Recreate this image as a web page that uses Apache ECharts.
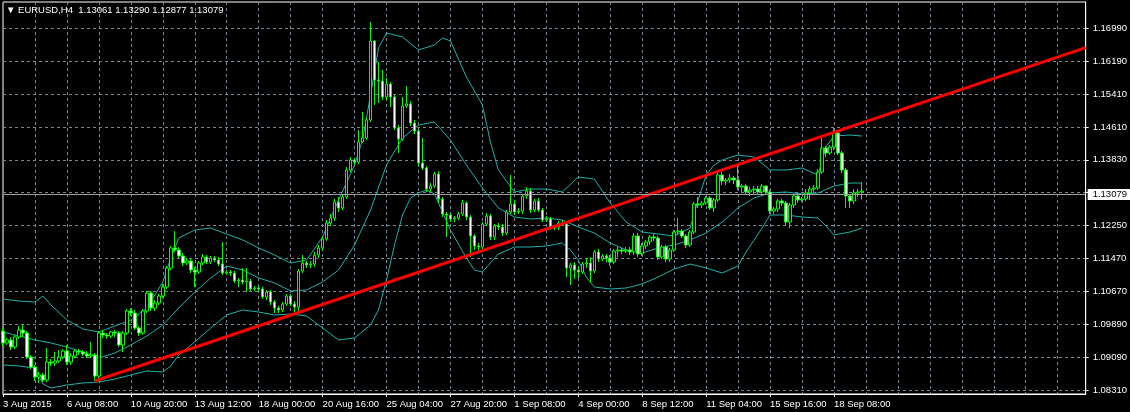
<!DOCTYPE html>
<html><head><meta charset="utf-8">
<script src="https://cdn.jsdelivr.net/npm/echarts@6/dist/echarts.min.js"></script>
<style>html,body{margin:0;padding:0;background:#000;}#c{width:1130px;height:412px;}</style>
</head><body><div id="c"></div>
<script>
// ---- data ----
const titleText = '\u25BC EURUSD,H4  1.13061 1.13290 1.12877 1.13079';
const currentPrice = 1.13079;
const yLabelValues = [1.08310,1.09090,1.09890,1.10670,1.11470,1.12250,1.13830,1.14610,1.15410,1.16190,1.16990];
const yGridValues  = [1.08310,1.09090,1.09890,1.10670,1.11470,1.12250,1.13040,1.13830,1.14610,1.15410,1.16190,1.16990];
const xTickLabels = ['3 Aug 2015','6 Aug 08:00','10 Aug 20:00','13 Aug 12:00','18 Aug 00:00','20 Aug 16:00','25 Aug 04:00','27 Aug 20:00','1 Sep 08:00','4 Sep 00:00','8 Sep 12:00','11 Sep 04:00','15 Sep 16:00','18 Sep 08:00'];
// candles: [open, close, low, high]
const candles = [
[1.09725,1.09437,1.09365,1.09796],[1.09437,1.09509,1.09389,1.09557],[1.09509,1.09341,1.09269,1.09581],[1.09341,1.09581,1.09293,1.09629],
[1.09581,1.09749,1.09533,1.09844],[1.09749,1.09677,1.09581,1.09892],[1.09677,1.09101,1.09053,1.09725],[1.09101,1.08861,1.08813,1.09149],
[1.08861,1.08622,1.08526,1.08909],[1.08622,1.08670,1.08478,1.08742],[1.08670,1.08550,1.08502,1.08718],[1.08550,1.08981,1.08502,1.09317],
[1.08981,1.08957,1.08885,1.09053],[1.08957,1.09005,1.08885,1.09221],[1.09005,1.09101,1.08957,1.09269],[1.09101,1.09245,1.09053,1.09293],
[1.09245,1.08981,1.08909,1.09389],[1.08981,1.09125,1.08909,1.09197],[1.09125,1.09245,1.09077,1.09293],[1.09245,1.09221,1.09149,1.09293],
[1.09221,1.09173,1.09125,1.09269],[1.09173,1.09125,1.09077,1.09245],[1.09125,1.09149,1.09077,1.09461],[1.09149,1.08646,1.08526,1.09197],
[1.08646,1.09677,1.08550,1.09725],[1.09677,1.09629,1.09557,1.09749],[1.09629,1.09605,1.09533,1.09677],[1.09605,1.09701,1.09557,1.09725],
[1.09701,1.09677,1.09581,1.09749],[1.09677,1.09389,1.09341,1.09725],[1.09389,1.09677,1.09221,1.09725],[1.09677,1.10204,1.09629,1.10252],
[1.10204,1.10156,1.10084,1.10276],[1.10156,1.09796,1.09749,1.10228],[1.09796,1.09677,1.09605,1.09844],[1.09677,1.10204,1.09629,1.10252],
[1.10204,1.10636,1.10156,1.10684],[1.10636,1.10276,1.10204,1.10684],[1.10276,1.10396,1.10204,1.10468],[1.10396,1.10564,1.10348,1.10612],
[1.10564,1.10780,1.10516,1.10852],[1.10780,1.11235,1.10732,1.11283],[1.11235,1.11715,1.11187,1.11763],[1.11715,1.11667,1.11619,1.12122],
[1.11667,1.11523,1.11475,1.11739],[1.11523,1.11355,1.11283,1.11595],[1.11355,1.11403,1.11307,1.11475],[1.11403,1.11187,1.11115,1.11451],
[1.11187,1.11139,1.10780,1.11259],[1.11139,1.11355,1.11091,1.11403],[1.11355,1.11499,1.11307,1.11571],[1.11499,1.11379,1.11331,1.11547],
[1.11379,1.11475,1.11331,1.11523],[1.11475,1.11427,1.11379,1.11523],[1.11427,1.11331,1.11283,1.11499],[1.11331,1.11115,1.11067,1.11859],
[1.11115,1.11139,1.11067,1.11187],[1.11139,1.11115,1.11043,1.11187],[1.11115,1.10924,1.10876,1.11163],[1.10924,1.10948,1.10780,1.10996],
[1.10948,1.10900,1.10852,1.11235],[1.10900,1.10924,1.10660,1.11235],[1.10924,1.10732,1.10684,1.10972],[1.10732,1.10756,1.10684,1.10804],
[1.10756,1.10732,1.10660,1.10804],[1.10732,1.10540,1.10492,1.10780],[1.10540,1.10660,1.10468,1.10708],[1.10660,1.10420,1.10348,1.10708],
[1.10420,1.10276,1.10156,1.10468],[1.10276,1.10228,1.10156,1.10324],[1.10228,1.10372,1.10180,1.10420],[1.10372,1.10564,1.10324,1.10612],
[1.10564,1.10372,1.10324,1.10612],[1.10372,1.10300,1.10180,1.10444],[1.10300,1.11163,1.10180,1.11211],[1.11163,1.11355,1.11115,1.11547],
[1.11355,1.11307,1.11235,1.11403],[1.11307,1.11331,1.11235,1.11403],[1.11331,1.11547,1.11259,1.11619],[1.11547,1.11715,1.11475,1.11787],
[1.11715,1.11930,1.11643,1.12002],[1.11930,1.12314,1.11883,1.12386],[1.12314,1.12434,1.12242,1.12530],[1.12434,1.12818,1.12362,1.12890],
[1.12818,1.12674,1.12578,1.12938],[1.12674,1.12938,1.12626,1.13010],[1.12938,1.13585,1.12890,1.13657],[1.13585,1.13825,1.13537,1.13897],
[1.13825,1.13777,1.13705,1.13873],[1.13777,1.14256,1.13729,1.14544],[1.14256,1.14352,1.14232,1.14976],[1.14352,1.14784,1.14304,1.14856],
[1.14784,1.16678,1.14736,1.17134],[1.16678,1.15743,1.15144,1.16702],[1.15743,1.15719,1.15192,1.16175],[1.15719,1.15336,1.15264,1.15983],
[1.15336,1.15647,1.15264,1.15791],[1.15647,1.15336,1.15096,1.15695],[1.15336,1.14592,1.14544,1.15383],[1.14592,1.14328,1.13993,1.14664],
[1.14328,1.15120,1.14280,1.15336],[1.15120,1.15168,1.15072,1.15599],[1.15168,1.14712,1.14640,1.15240],[1.14712,1.14520,1.14448,1.14784],
[1.14520,1.13753,1.13681,1.14568],[1.13753,1.13633,1.13585,1.14352],[1.13633,1.13129,1.13058,1.13681],[1.13129,1.13201,1.13058,1.13273],
[1.13201,1.13489,1.13153,1.13537],[1.13489,1.12890,1.12794,1.13561],[1.12890,1.12530,1.12458,1.12938],[1.12530,1.12506,1.11979,1.12578],
[1.12506,1.12410,1.12338,1.12554],[1.12410,1.12434,1.12338,1.12482],[1.12434,1.12530,1.12386,1.12578],[1.12530,1.12794,1.12482,1.12866],
[1.12794,1.12458,1.12386,1.12842],[1.12458,1.12002,1.11499,1.12506],[1.12002,1.11763,1.11667,1.12050],[1.11763,1.11739,1.11619,1.11835],
[1.11739,1.12290,1.11667,1.12338],[1.12290,1.12482,1.12242,1.12554],[1.12482,1.11979,1.11907,1.12530],[1.11979,1.12242,1.11907,1.12290],
[1.12242,1.12218,1.12146,1.12314],[1.12218,1.12074,1.12002,1.12290],[1.12074,1.12578,1.12026,1.12626],[1.12578,1.12770,1.12530,1.13465],
[1.12770,1.12578,1.12506,1.12866],[1.12578,1.12602,1.12530,1.12674],[1.12602,1.12962,1.12530,1.13010],[1.12962,1.13082,1.12890,1.13177],
[1.13082,1.12626,1.12554,1.13153],[1.12626,1.12842,1.12578,1.12890],[1.12842,1.12626,1.12578,1.12914],[1.12626,1.12386,1.12338,1.12674],
[1.12386,1.12410,1.12338,1.12482],[1.12410,1.12194,1.12146,1.12458],[1.12194,1.12218,1.12146,1.12266],[1.12218,1.12314,1.12146,1.12362],
[1.12314,1.12290,1.12242,1.12386],[1.12290,1.11235,1.11019,1.12338],[1.11235,1.11307,1.10828,1.11355],[1.11307,1.11187,1.10972,1.11379],
[1.11187,1.11139,1.10996,1.11283],[1.11139,1.11331,1.11091,1.11379],[1.11331,1.11355,1.11235,1.11475],[1.11355,1.11163,1.10876,1.11499],
[1.11163,1.11619,1.11115,1.11667],[1.11619,1.11451,1.11379,1.11691],[1.11451,1.11523,1.11403,1.11571],[1.11523,1.11475,1.11379,1.11571],
[1.11475,1.11379,1.11283,1.11547],[1.11379,1.11643,1.11331,1.11691],[1.11643,1.11667,1.11499,1.11739],[1.11667,1.11643,1.11571,1.11715],
[1.11643,1.11667,1.11595,1.11739],[1.11667,1.11619,1.11547,1.11739],[1.11619,1.12002,1.11547,1.12074],[1.12002,1.11571,1.11499,1.12074],
[1.11571,1.11763,1.11523,1.11835],[1.11763,1.11859,1.11691,1.11907],[1.11859,1.11979,1.11787,1.12026],[1.11979,1.11955,1.11883,1.12050],
[1.11955,1.11499,1.11427,1.12002],[1.11499,1.11739,1.11451,1.11787],[1.11739,1.11451,1.11379,1.11787],[1.11451,1.11667,1.11379,1.11715],
[1.11667,1.12098,1.11619,1.12146],[1.12098,1.12122,1.12026,1.12434],[1.12122,1.12002,1.11955,1.12170],[1.12002,1.11787,1.11715,1.12050],
[1.11787,1.12098,1.11739,1.12146],[1.12098,1.12770,1.12050,1.12818],[1.12770,1.12746,1.12674,1.12938],[1.12746,1.12794,1.12674,1.12842],
[1.12794,1.12914,1.12746,1.12962],[1.12914,1.12674,1.12626,1.12962],[1.12674,1.12866,1.12578,1.12914],[1.12866,1.13465,1.12818,1.13513],
[1.13465,1.13321,1.13225,1.13537],[1.13321,1.13345,1.13225,1.13393],[1.13345,1.13393,1.13273,1.13489],[1.13393,1.13345,1.13249,1.13441],
[1.13345,1.13177,1.13106,1.13705],[1.13177,1.13201,1.13034,1.13249],[1.13201,1.13058,1.12986,1.13249],[1.13058,1.13106,1.12962,1.13177],
[1.13106,1.13129,1.13010,1.13201],[1.13129,1.13058,1.13010,1.13201],[1.13058,1.13201,1.13010,1.13249],[1.13201,1.13058,1.13010,1.13225],
[1.13058,1.12602,1.12530,1.13106],[1.12602,1.12650,1.12530,1.12698],[1.12650,1.12842,1.12578,1.12890],[1.12842,1.12794,1.12722,1.12890],
[1.12794,1.12338,1.12266,1.12842],[1.12338,1.12746,1.12194,1.12794],[1.12746,1.12962,1.12674,1.13010],[1.12962,1.12866,1.12794,1.13010],
[1.12866,1.12890,1.12818,1.12938],[1.12890,1.13034,1.12842,1.13129],[1.13034,1.13129,1.12866,1.13201],[1.13129,1.13153,1.13058,1.13225],
[1.13153,1.13537,1.13106,1.13609],[1.13537,1.14113,1.13489,1.14352],[1.14113,1.13993,1.13897,1.14161],[1.13993,1.14137,1.13945,1.14185],
[1.14137,1.14472,1.14065,1.14592],[1.14472,1.13993,1.13945,1.14520],[1.13993,1.13585,1.13513,1.14041],[1.13585,1.12962,1.12674,1.13633],
[1.12962,1.12842,1.12674,1.12986],[1.12842,1.13034,1.12770,1.13129],[1.13034,1.13058,1.12938,1.13129],[1.13061,1.13079,1.12877,1.13290]
];
// Bollinger bands read at sample bars: [barIndex, price]
const upperBand = [[0,1.10492],[4,1.10444],[8,1.10420],[10,1.10564],[12,1.10348],[16,1.09988],[20,1.09772],[24,1.09701],[28,1.09844],[32,1.09988],[36,1.10276],[40,1.10900],[42,1.11475],[44,1.11955],[48,1.12146],[52,1.12194],[56,1.12050],[60,1.11907],[64,1.11715],[68,1.11547],[72,1.11355],[76,1.11427],[80,1.11979],[84,1.12866],[88,1.13705],[90,1.14304],[92,1.15383],[94,1.16511],[96,1.16870],[100,1.16774],[104,1.16463],[108,1.16583],[110,1.16750],[112,1.16678],[116,1.15815],[120,1.15144],[122,1.14256],[124,1.13585],[128,1.13058],[132,1.13129],[136,1.13129],[140,1.13058],[144,1.13417],[148,1.13369],[152,1.12794],[156,1.12338],[160,1.12098],[164,1.12050],[168,1.12002],[172,1.12194],[174,1.12866],[176,1.13465],[178,1.13705],[180,1.13825],[184,1.13945],[188,1.13897],[192,1.13585],[196,1.13585],[200,1.13633],[204,1.13465],[206,1.14137],[208,1.14400],[212,1.14424],[215,1.14400]];
const middleBand = [[0,1.09701],[4,1.09605],[8,1.09509],[12,1.09437],[16,1.09341],[20,1.09221],[24,1.09077],[28,1.09197],[32,1.09389],[36,1.09605],[40,1.09868],[44,1.10276],[48,1.10660],[52,1.10996],[56,1.11283],[60,1.11187],[64,1.10996],[68,1.10876],[72,1.10684],[76,1.10708],[80,1.10900],[84,1.11187],[88,1.11787],[92,1.12626],[96,1.13705],[100,1.14352],[104,1.14664],[108,1.14736],[112,1.14304],[116,1.13705],[120,1.13153],[124,1.12674],[128,1.12458],[132,1.12410],[136,1.12434],[140,1.12386],[144,1.12218],[148,1.12074],[152,1.11835],[156,1.11667],[160,1.11595],[164,1.11715],[168,1.11787],[172,1.11907],[176,1.12074],[180,1.12338],[184,1.12674],[188,1.12914],[192,1.13034],[196,1.13058],[200,1.13010],[204,1.13034],[208,1.13201],[212,1.13273],[215,1.13273]];
const lowerBand = [[0,1.08909],[4,1.08885],[8,1.08837],[10,1.08454],[12,1.08358],[16,1.08430],[20,1.08478],[24,1.08502],[28,1.08574],[32,1.08670],[36,1.08766],[40,1.08742],[42,1.08885],[44,1.09149],[48,1.09461],[52,1.09796],[56,1.10108],[60,1.10228],[64,1.10180],[68,1.10108],[72,1.10132],[76,1.10084],[80,1.09796],[84,1.09509],[88,1.09557],[92,1.09868],[94,1.10228],[96,1.10948],[98,1.11787],[100,1.12506],[102,1.12914],[104,1.13034],[106,1.13106],[108,1.13010],[112,1.12146],[116,1.11475],[118,1.11187],[120,1.11139],[124,1.11571],[128,1.11739],[132,1.11739],[136,1.11763],[140,1.11835],[142,1.11667],[144,1.11427],[146,1.11019],[148,1.10780],[152,1.10732],[156,1.10756],[160,1.10852],[164,1.11019],[168,1.11211],[172,1.11331],[176,1.11235],[180,1.11115],[184,1.11283],[186,1.11619],[188,1.11907],[190,1.12194],[192,1.12506],[196,1.12506],[200,1.12458],[204,1.12434],[206,1.12242],[208,1.12026],[212,1.12098],[215,1.12194]];
// trend line anchors: [barIndex, price]
const trendLine = [[23,1.08526],[271,1.16518]];

// ---- build categories (H4 bars, Sunday 20:00 bar, no Saturday) ----
const totalSlots = 272;
const months = ['Jan','Feb','Mar','Apr','May','Jun','Jul','Aug','Sep','Oct','Nov','Dec'];
const categories = [];
(function(){
  let t = Date.UTC(2015,7,3,16);
  while (categories.length < candles.length) {
    const d = new Date(t), wd = d.getUTCDay(), h = d.getUTCHours();
    if ((wd >= 1 && wd <= 5) || (wd === 0 && h === 20)) {
      categories.push(d.getUTCDate()+' '+months[d.getUTCMonth()]+' '+String(h).padStart(2,'0')+':00');
    }
    t += 4*3600*1000;
  }
  while (categories.length < totalSlots) categories.push('');
})();
const lastLabelIdx = (xTickLabels.length-1)*16;
const isTick = (i) => i % 16 === 0 && i <= lastLabelIdx;

const FONT = 'Liberation Sans';
const pxPerUnit = 362/(1.16990-1.08310);
const yMin = 1.08310 - 4/pxPerUnit;
const yMax = 1.16990 + 26/pxPerUnit;

const chart = echarts.init(document.getElementById('c'));
chart.setOption({
  backgroundColor: '#000',
  animation: false,
  title: {text: titleText, left: 6, top: 5, padding: 0,
    textStyle: {color:'#fff', fontSize: 9.5, fontWeight:'normal', fontFamily: FONT}},
  grid: {left: 3, right: 43, top: 2, bottom: 18, show: true, borderColor:'#fff', borderWidth: 1, containLabel: false},
  xAxis: {
    type:'category', data: categories, boundaryGap: false,
    axisLine: {show:true, lineStyle:{color:'#fff', width:1}},
    axisTick: {show:true, interval: (i)=>isTick(i), length: 3, lineStyle:{color:'#fff'}},
    axisLabel: {show:true, interval: (i)=>isTick(i), formatter: (v,i)=> isTick(i) ? xTickLabels[i/16] : '',
      color:'#fff', fontSize: 9.5, fontFamily: FONT, align:'left', margin: 5},
    splitLine: {show:true, interval: 7, lineStyle:{color:'#778899', type:[3,3], width:1}}
  },
  yAxis: {
    type:'value', position:'right', min: yMin, max: yMax, scale: true,
    axisLine: {show:true, lineStyle:{color:'#fff', width:1}},
    axisTick: {show:true, length: 3, customValues: yGridValues, lineStyle:{color:'#fff'}},
    axisLabel: {show:true, customValues: yLabelValues, formatter: (v)=>v.toFixed(5),
      color:'#fff', fontSize: 9.5, fontFamily: FONT, margin: 7},
    splitLine: {show:true, lineStyle:{color:'#778899', type:[3,3], width:1}}
  },
  series: [
    {type:'line', data: upperBand, symbol:'none', silent:true, lineStyle:{color:'#20b2aa', width:1}, z:2},
    {type:'line', data: middleBand, symbol:'none', silent:true, lineStyle:{color:'#20b2aa', width:1}, z:2},
    {type:'line', data: lowerBand, symbol:'none', silent:true, lineStyle:{color:'#20b2aa', width:1}, z:2},
    {type:'candlestick', data: candles, barWidth: 3, z:3,
      itemStyle:{color:'#000', color0:'#fff', borderColor:'#00ff00', borderColor0:'#00ff00', borderWidth:1},
      markLine: {symbol:'none', silent:true, animation:false, data:[{yAxis: currentPrice}],
        lineStyle:{color:'#a0a0a0', type:'solid', width:1},
        label:{show:true, position:'end', formatter: currentPrice.toFixed(5), distance: 2,
          color:'#000', backgroundColor:'#fff', fontSize: 9.5, fontFamily: FONT, padding:[1,6,0,5]}}},
    {type:'line', data: trendLine, symbol:'none', silent:true, lineStyle:{color:'#ff0000', width:3}, z:4}
  ]
});
</script>
</body></html>
